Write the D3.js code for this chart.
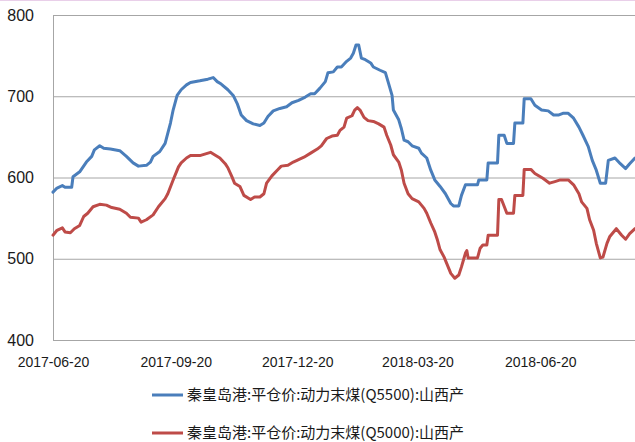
<!DOCTYPE html>
<html>
<head>
<meta charset="utf-8">
<script src="https://cdn.jsdelivr.net/npm/d3@7/dist/d3.min.js"></script>
<style>
  html, body { margin: 0; padding: 0; background: #fff; }
  svg { display: block; }
</style>
</head>
<body>
<svg id="chart" width="635" height="442"></svg>
<script>
// ---------- DATA ----------
const seriesNames = [
  "秦皇岛港:平仓价:动力末煤(Q5500):山西产",
  "秦皇岛港:平仓价:动力末煤(Q5000):山西产"
];
const seriesColors = ["#4A7EBB", "#BE4B48"];

const yTicks = [400, 500, 600, 700, 800];
const xTickLabels = ["2017-06-20", "2017-09-20", "2017-12-20", "2018-03-20", "2018-06-20"];
const xDomain = ["2017-06-20", "2018-08-30"];

const q5500 = [
  ["2017-06-20",582],["2017-06-23",587],["2017-06-27",590],["2017-06-29",588],["2017-07-04",588],
  ["2017-07-05",601],["2017-07-10",607],["2017-07-15",619],["2017-07-19",626],["2017-07-21",634],
  ["2017-07-25",639],["2017-07-28",636],["2017-08-02",635],["2017-08-09",633],["2017-08-14",626],
  ["2017-08-19",618],["2017-08-23",614],["2017-08-29",615],["2017-09-01",619],["2017-09-03",626],
  ["2017-09-08",632],["2017-09-12",642],["2017-09-16",667],["2017-09-18",683],["2017-09-21",701],
  ["2017-09-24",708],["2017-09-28",714],["2017-10-01",717],["2017-10-08",719],["2017-10-14",721],
  ["2017-10-18",723],["2017-10-21",718],["2017-10-24",715],["2017-10-29",708],["2017-11-02",701],
  ["2017-11-05",691],["2017-11-08",677],["2017-11-12",670],["2017-11-17",666],["2017-11-22",664],
  ["2017-11-25",667],["2017-11-28",675],["2017-12-02",682],["2017-12-07",685],["2017-12-12",687],
  ["2017-12-16",692],["2017-12-21",695],["2017-12-26",699],["2017-12-30",703],["2018-01-02",703],
  ["2018-01-06",710],["2018-01-10",718],["2018-01-12",729],["2018-01-16",730],["2018-01-19",736],
  ["2018-01-22",736],["2018-01-26",743],["2018-01-29",747],["2018-01-31",753],["2018-02-02",763],
  ["2018-02-04",763],["2018-02-06",747],["2018-02-09",745],["2018-02-13",741],["2018-02-15",736],
  ["2018-02-20",732],["2018-02-24",729],["2018-02-26",718],["2018-03-01",701],["2018-03-02",683],
  ["2018-03-06",671],["2018-03-08",660],["2018-03-10",646],["2018-03-13",644],["2018-03-16",639],
  ["2018-03-21",636],["2018-03-23",630],["2018-03-27",624],["2018-03-30",609],["2018-04-02",597],
  ["2018-04-06",589],["2018-04-10",580],["2018-04-14",568],["2018-04-16",565],["2018-04-20",565],
  ["2018-04-22",578],["2018-04-25",591],["2018-05-04",591],["2018-05-05",597],["2018-05-11",597],
  ["2018-05-12",618],["2018-05-19",618],["2018-05-20",652],["2018-05-24",652],["2018-05-26",642],
  ["2018-05-31",642],["2018-06-01",667],["2018-06-07",667],["2018-06-08",697],["2018-06-13",697],
  ["2018-06-16",689],["2018-06-21",683],["2018-06-26",682],["2018-06-30",677],["2018-07-04",677],
  ["2018-07-07",679],["2018-07-11",679],["2018-07-15",673],["2018-07-19",662],["2018-07-22",652],
  ["2018-07-26",638],["2018-07-29",621],["2018-08-01",609],["2018-08-04",593],["2018-08-08",593],
  ["2018-08-10",621],["2018-08-15",624],["2018-08-19",617],["2018-08-23",611],["2018-08-26",617],
  ["2018-08-30",624]
];

const q5000 = [
  ["2017-06-20",529],["2017-06-23",535],["2017-06-27",538],["2017-06-29",533],["2017-07-03",532],
  ["2017-07-06",537],["2017-07-10",541],["2017-07-13",552],["2017-07-16",556],["2017-07-20",564],
  ["2017-07-25",567],["2017-07-30",566],["2017-08-03",563],["2017-08-09",561],["2017-08-14",556],
  ["2017-08-17",551],["2017-08-23",550],["2017-08-25",545],["2017-08-29",548],["2017-09-03",554],
  ["2017-09-07",564],["2017-09-12",574],["2017-09-14",580],["2017-09-18",597],["2017-09-22",613],
  ["2017-09-24",618],["2017-09-28",624],["2017-10-01",627],["2017-10-08",627],["2017-10-16",631],
  ["2017-10-19",628],["2017-10-23",624],["2017-10-27",617],["2017-10-29",612],["2017-11-01",601],
  ["2017-11-03",593],["2017-11-07",589],["2017-11-10",578],["2017-11-15",573],["2017-11-18",576],
  ["2017-11-22",576],["2017-11-25",580],["2017-11-27",593],["2017-12-01",602],["2017-12-05",609],
  ["2017-12-08",614],["2017-12-13",615],["2017-12-17",619],["2017-12-21",622],["2017-12-25",625],
  ["2017-12-30",630],["2018-01-04",635],["2018-01-07",639],["2018-01-11",648],["2018-01-15",651],
  ["2018-01-19",652],["2018-01-21",658],["2018-01-24",662],["2018-01-26",673],["2018-01-30",676],
  ["2018-02-01",683],["2018-02-03",686],["2018-02-05",683],["2018-02-08",674],["2018-02-11",670],
  ["2018-02-15",669],["2018-02-19",666],["2018-02-23",662],["2018-02-25",652],["2018-02-28",640],
  ["2018-03-02",628],["2018-03-06",619],["2018-03-08",609],["2018-03-10",593],["2018-03-13",580],
  ["2018-03-16",574],["2018-03-21",570],["2018-03-25",562],["2018-03-27",556],["2018-03-30",544],
  ["2018-04-02",533],["2018-04-04",523],["2018-04-06",511],["2018-04-09",502],["2018-04-11",494],
  ["2018-04-14",482],["2018-04-17",476],["2018-04-20",480],["2018-04-22",490],["2018-04-25",507],
  ["2018-04-26",510],["2018-04-27",501],["2018-05-04",501],["2018-05-06",513],["2018-05-08",517],
  ["2018-05-11",517],["2018-05-12",529],["2018-05-19",529],["2018-05-20",573],["2018-05-22",573],
  ["2018-05-26",556],["2018-05-31",556],["2018-06-01",578],["2018-06-07",578],["2018-06-08",610],
  ["2018-06-13",610],["2018-06-16",605],["2018-06-22",599],["2018-06-27",593],["2018-07-01",595],
  ["2018-07-05",597],["2018-07-11",597],["2018-07-15",591],["2018-07-19",580],["2018-07-21",570],
  ["2018-07-25",562],["2018-07-27",548],["2018-07-30",535],["2018-08-01",519],["2018-08-04",501],
  ["2018-08-06",502],["2018-08-09",519],["2018-08-11",527],["2018-08-16",537],["2018-08-20",529],
  ["2018-08-23",524],["2018-08-26",531],["2018-08-30",537]
];

// ---------- CHART ----------
const parse = d3.timeParse("%Y-%m-%d");
const svg = d3.select("#chart");
const W = 635, H = 442;
const m = { left: 53, right: 0, top: 15, bottom: 102 };
const plotW = W - m.left - m.right;
const plotH = H - m.top - m.bottom;

// faint top border
svg.append("line").attr("x1", 0).attr("x2", W).attr("y1", 0.5).attr("y2", 0.5)
  .attr("stroke", "#e9cfe9").attr("stroke-width", 1);

const x = d3.scaleTime().domain(xDomain.map(parse)).range([m.left, m.left + plotW]);
const y = d3.scaleLinear().domain([400, 800]).range([m.top + plotH, m.top]);

// Y axis with gridlines
const yAxis = svg.append("g")
  .attr("transform", `translate(${m.left},0)`)
  .call(d3.axisLeft(y).tickValues(yTicks).tickSize(-plotW).tickPadding(19).tickFormat(d3.format("d")));
yAxis.select(".domain").remove();
yAxis.selectAll(".tick line").attr("stroke", "#a6a6a6").attr("stroke-width", 1);
yAxis.selectAll("text")
  .attr("font-family", "'Liberation Sans', Arial, sans-serif")
  .attr("font-size", 16).attr("fill", "#1a1a1a");

// left axis line
svg.append("line")
  .attr("x1", m.left + 0.5).attr("x2", m.left + 0.5)
  .attr("y1", y(800)).attr("y2", y(400))
  .attr("stroke", "#a6a6a6").attr("stroke-width", 1);

// X axis
const xAxis = svg.append("g")
  .attr("transform", `translate(0,${y(400)})`)
  .call(d3.axisBottom(x).tickValues(xTickLabels.map(parse)).tickSize(0).tickPadding(17)
        .tickFormat(d3.timeFormat("%Y-%m-%d")));
xAxis.select(".domain").attr("stroke", "#a6a6a6");
xAxis.selectAll("text")
  .attr("font-family", "'Liberation Sans', Arial, sans-serif")
  .attr("font-size", 14).attr("fill", "#1a1a1a");

// lines
const line = d3.line().x(d => x(parse(d[0]))).y(d => y(d[1]));
[q5500, q5000].forEach((s, i) => {
  svg.append("path").datum(s)
    .attr("d", line)
    .attr("fill", "none")
    .attr("stroke", seriesColors[i])
    .attr("stroke-width", 3)
    .attr("stroke-linejoin", "round")
    .attr("stroke-linecap", "round");
});

// legend
const legend = svg.append("g");
const legendY = [395, 433];
seriesNames.forEach((name, i) => {
  legend.append("line")
    .attr("x1", 152).attr("x2", 183)
    .attr("y1", legendY[i]).attr("y2", legendY[i])
    .attr("stroke", seriesColors[i]).attr("stroke-width", 3);
  legend.append("text")
    .attr("x", 187).attr("y", legendY[i])
    .attr("dy", "0.35em")
    .attr("font-family", "'Noto Sans CJK SC', sans-serif")
    .attr("font-size", 15).attr("fill", "#1a1a1a")
    .text(name);
});
</script>
</body>
</html>
